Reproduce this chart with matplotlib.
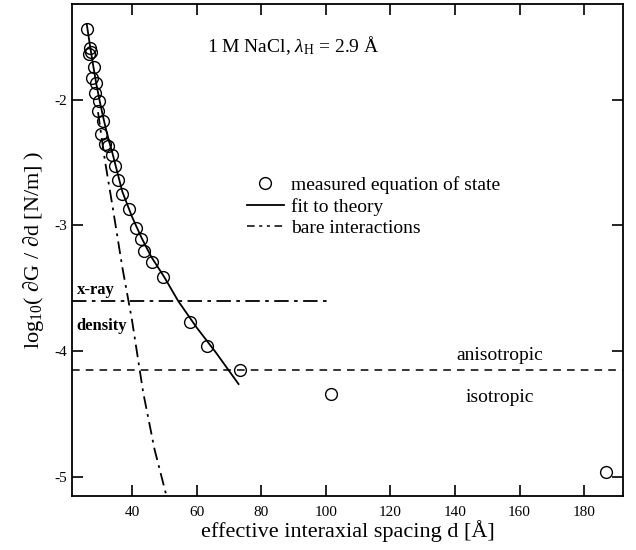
import matplotlib
matplotlib.use("Agg")
import matplotlib.pyplot as plt
from matplotlib.lines import Line2D

plt.rcParams['font.family'] = ['Liberation Serif', 'DejaVu Serif']
plt.rcParams['mathtext.fontset'] = 'custom'
plt.rcParams['mathtext.rm'] = 'Liberation Serif'
plt.rcParams['mathtext.it'] = 'Liberation Serif:italic'
plt.rcParams['axes.unicode_minus'] = False

# measured equation of state
meas_d = [26.1, 27.0, 27.2, 26.7, 28.2, 27.5, 28.9, 28.5, 29.9, 29.4, 31.0, 30.5,
          31.6, 32.7, 33.7, 34.9, 35.7, 37.0, 39.1, 41.4, 42.8, 43.7, 46.1, 49.7,
          58.0, 63.1, 73.3, 101.5, 186.8]
meas_logp = [-1.44, -1.59, -1.62, -1.64, -1.74, -1.83, -1.87, -1.95, -2.01, -2.09, -2.17, -2.27,
             -2.35, -2.37, -2.44, -2.53, -2.64, -2.75, -2.87, -3.02, -3.11, -3.20, -3.29, -3.41,
             -3.77, -3.96, -4.15, -4.34, -4.96]

# fit to theory
fit_d = [26.0, 27, 28, 29, 30, 31, 32, 33, 34, 35, 37, 40, 43, 46, 50, 54.3, 60, 66, 73]
fit_logp = [-1.40, -1.57, -1.73, -1.88, -2.01, -2.13, -2.24, -2.34, -2.43, -2.53, -2.73, -2.93,
            -3.10, -3.25, -3.41, -3.60, -3.81, -4.01, -4.26]

# bare interactions
bare_d = [29.5, 31.6, 34.0, 37.0, 40.0, 43.5, 47.0, 50.7]
bare_logp = [-2.10, -2.48, -2.85, -3.33, -3.75, -4.33, -4.78, -5.15]

xray_level = -3.60
xray_end = 101.0
aniso_level = -4.15

fig = plt.figure(figsize=(6.36, 5.5), dpi=100)
ax = fig.add_axes([0.113, 0.098, 0.867, 0.895])

ax.plot(fit_d, fit_logp, color='black', lw=1.3)
ax.plot(bare_d, bare_logp, color='black', lw=1.3, linestyle=(0, (7, 3, 1.5, 3)))
ax.plot(meas_d, meas_logp, 'o', mfc='none', mec='black', ms=8.5, mew=1.0)

ax.plot([21.4, xray_end], [xray_level, xray_level], color='black', lw=1.3,
        linestyle=(0, (8, 3, 2, 3)))
ax.axhline(aniso_level, color='black', lw=1.1, linestyle=(0, (5, 4)))

ax.text(22.9, -3.51, 'x-ray', fontsize=12, fontweight='bold', ha='left', va='center')
ax.text(22.9, -3.80, 'density', fontsize=12, fontweight='bold', ha='left', va='center')
ax.text(154, -4.03, 'anisotropic', fontsize=14, ha='center', va='center')
ax.text(154, -4.37, 'isotropic', fontsize=14, ha='center', va='center')
ax.text(90, -1.57, r'1 M NaCl, $\lambda_{\mathrm{H}}$ = 2.9 Å', fontsize=14,
        ha='center', va='center')

handles = [
    Line2D([], [], marker='o', ls='none', mfc='none', mec='black', ms=8.5, mew=1.0),
    Line2D([], [], color='black', lw=1.3),
    Line2D([], [], color='black', lw=1.1, ls=(0, (5, 3, 2, 3, 2, 3))),
]
ax.legend(handles, ['measured equation of state', 'fit to theory', 'bare interactions'],
          loc='upper left', bbox_to_anchor=(0.30, 0.67), frameon=False, fontsize=14,
          handlelength=1.9, handletextpad=0.35, labelspacing=0.2, borderpad=0)

ax.set_xlim(21.4, 192.1)
ax.set_ylim(-5.15, -1.24)
ax.set_xticks([40, 60, 80, 100, 120, 140, 160, 180])
ax.set_yticks([-5, -4, -3, -2])
ax.tick_params(direction='in', length=8, width=1.2, top=True, right=True, labelsize=11)
ax.tick_params(axis='x', pad=7)
for s in ax.spines.values():
    s.set_linewidth(1.3)

ax.set_xlabel('effective interaxial spacing d [Å]', fontsize=16, labelpad=1)
ax.set_ylabel(r'log$_{\mathrm{10}}$( ∂G / ∂d [N/m] )', fontsize=16, labelpad=6)

fig.savefig('out.png', dpi=100)
